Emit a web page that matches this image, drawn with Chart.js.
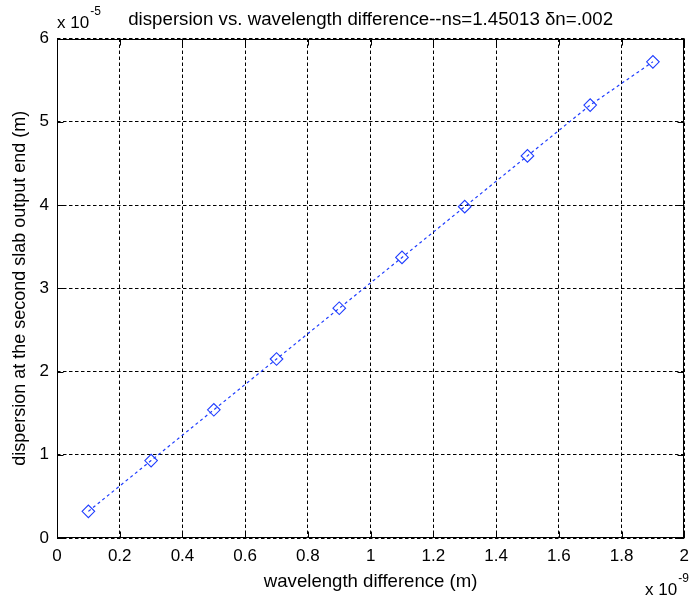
<!DOCTYPE html>
<html><head><meta charset="utf-8">
<script src="https://cdn.jsdelivr.net/npm/chart.js@4"></script>
<style>html,body{margin:0;padding:0;background:#fff}</style>
</head><body>
<canvas id="c" width="697" height="605"></canvas>
<script>
const titleText = 'dispersion vs. wavelength difference--ns=1.45013 δn=.002';
const xAxisLabel = 'wavelength difference (m)';
const yAxisLabel = 'dispersion at the second slab output end (m)';
const xExponent = '-9';
const yExponent = '-5';
const wavelengthDiff = [0.1, 0.3, 0.5, 0.7, 0.9, 1.1, 1.3, 1.5, 1.7, 1.9];
const dispersion = [0.32, 0.93, 1.54, 2.15, 2.76, 3.37, 3.98, 4.59, 5.20, 5.72];
const xTicks = [0, 0.2, 0.4, 0.6, 0.8, 1, 1.2, 1.4, 1.6, 1.8, 2];
const yTicks = [0, 1, 2, 3, 4, 5, 6];

const FONT = "'Liberation Sans', Arial, sans-serif";
Chart.defaults.font.family = FONT;
Chart.defaults.font.size = 17;
Chart.defaults.color = '#000';

const framePlugin = {
  id: 'frame',
  beforeDatasetsDraw(chart) {
    const {ctx, chartArea: a, scales: {x, y}} = chart;
    ctx.save();
    ctx.strokeStyle = '#000';
    ctx.lineWidth = 1;
    ctx.setLineDash([]);
    const L = Math.round(a.left) + 0.5, R = Math.round(a.right) - 0.5;
    const T = Math.round(a.top) + 0.5, B = Math.round(a.bottom) - 0.5;
    ctx.strokeRect(L, T, R - L, B - T);
    const tl = 6;
    ctx.beginPath();
    xTicks.forEach(v => {
      const px = Math.round(x.getPixelForValue(v)) + 0.5;
      ctx.moveTo(px, B); ctx.lineTo(px, B - tl);
      ctx.moveTo(px, T); ctx.lineTo(px, T + tl);
    });
    yTicks.forEach(v => {
      const py = Math.round(y.getPixelForValue(v)) + 0.5;
      ctx.moveTo(L, py); ctx.lineTo(L + tl, py);
      ctx.moveTo(R, py); ctx.lineTo(R - tl, py);
    });
    ctx.stroke();
    ctx.restore();
  },
  afterDraw(chart) {
    const {ctx, chartArea: a} = chart;
    ctx.save();
    ctx.fillStyle = '#000';
    ctx.textBaseline = 'alphabetic';
    ctx.font = '18.7px ' + FONT;
    ctx.textAlign = 'center';
    ctx.fillText(titleText, (a.left + a.right) / 2, 25);
    ctx.textAlign = 'left';
    ctx.font = '17px ' + FONT;
    ctx.fillText('x 10', 57, 28);
    let w = ctx.measureText('x 10').width;
    ctx.font = '12px ' + FONT;
    ctx.fillText(yExponent, 57 + w + 1, 15);
    ctx.font = '17px ' + FONT;
    ctx.fillText('x 10', 645, 595);
    w = ctx.measureText('x 10').width;
    ctx.font = '12px ' + FONT;
    ctx.fillText(xExponent, 645 + w + 1, 582);
    ctx.restore();
  }
};

new Chart(document.getElementById('c'), {
  type: 'scatter',
  data: {
    datasets: [{
      data: wavelengthDiff.map((v, i) => ({x: v, y: dispersion[i]})),
      showLine: true,
      borderColor: '#1f3dff',
      borderWidth: 1.2,
      borderDash: [3, 3],
      pointStyle: 'rectRot',
      pointRadius: 6.3,
      pointHoverRadius: 6.3,
      pointBorderColor: '#1f3dff',
      pointBackgroundColor: 'rgba(255,255,255,0)',
      pointBorderWidth: 1.1,
      tension: 0
    }]
  },
  options: {
    responsive: false,
    animation: false,
    layout: {padding: {top: 38.5, right: 6, left: 0, bottom: 0}},
    plugins: {legend: {display: false}, tooltip: {enabled: false}, title: {display: false}},
    scales: {
      x: {
        type: 'linear', min: 0, max: 2,
        afterBuildTicks: s => { s.ticks = xTicks.map(v => ({value: v})); },
        afterFit: s => { s.height = 67; },
        ticks: {padding: 8, maxRotation: 0, autoSkip: false, callback: v => String(+(+v).toFixed(1))},
        grid: {color: '#000', lineWidth: 1, drawTicks: false},
        border: {display: false, dash: [3.5, 2.5]},
        title: {display: true, text: xAxisLabel, padding: {top: 0, bottom: 12}, font: {size: 18.6}}
      },
      y: {
        type: 'linear', min: 0, max: 6,
        afterBuildTicks: s => { s.ticks = yTicks.map(v => ({value: v})); },
        afterFit: s => { s.width = 57; },
        ticks: {padding: 8, autoSkip: false, callback: v => String(v)},
        grid: {color: '#000', lineWidth: 1, drawTicks: false},
        border: {display: false, dash: [3.5, 2.5]},
        title: {display: true, text: yAxisLabel, padding: {top: 9, bottom: 0}, font: {size: 18}}
      }
    }
  },
  plugins: [framePlugin]
});
</script>
</body></html>
